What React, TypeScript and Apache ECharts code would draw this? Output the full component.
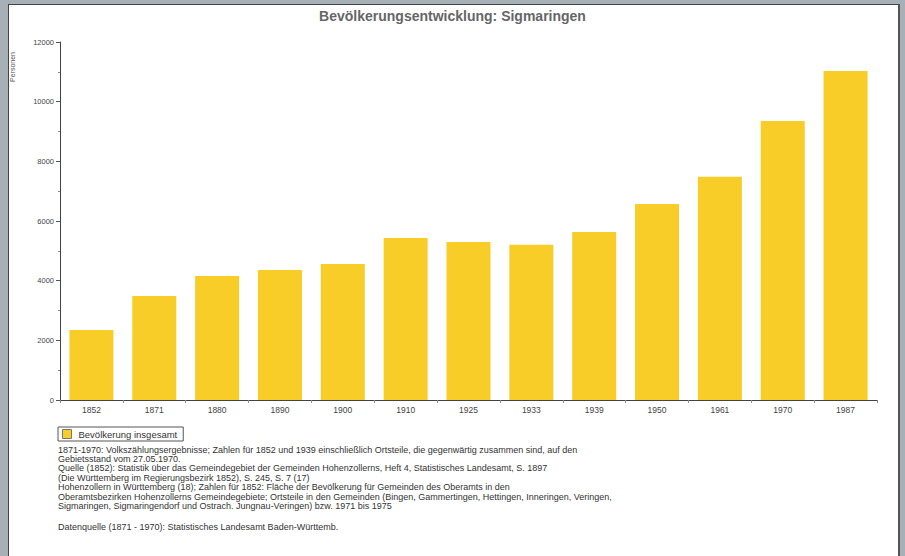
import React, { useEffect, useRef } from "react";
import * as echarts from "echarts";

const years = ["1852", "1871", "1880", "1890", "1900", "1910", "1925", "1933", "1939", "1950", "1961", "1970", "1987"];
const population = [2350, 3490, 4160, 4360, 4560, 5430, 5300, 5200, 5630, 6570, 7480, 9350, 11030];
const seriesName = "Bevölkerung insgesamt";
const titleText = "Bevölkerungsentwicklung: Sigmaringen";
const yAxisTitle = "Personen";
const notes = [
  "1871-1970: Volkszählungsergebnisse; Zahlen für 1852 und 1939 einschließlich Ortsteile, die gegenwärtig zusammen sind, auf den",
  "Gebietsstand vom 27.05.1970.",
  "Quelle (1852): Statistik über das Gemeindegebiet der Gemeinden Hohenzollerns, Heft 4, Statistisches Landesamt, S. 1897",
  "(Die Württemberg im Regierungsbezirk 1852), S. 245, S. 7 (17)",
  "Hohenzollern in Württemberg (18); Zahlen für 1852: Fläche der Bevölkerung für Gemeinden des Oberamts in den",
  "Oberamtsbezirken Hohenzollerns Gemeindegebiete; Ortsteile in den Gemeinden (Bingen, Gammertingen, Hettingen, Inneringen, Veringen,",
  "Sigmaringen, Sigmaringendorf und Ostrach. Jungnau-Veringen) bzw. 1971 bis 1975",
];
const sourceNote = "Datenquelle (1871 - 1970): Statistisches Landesamt Baden-Württemb.";

export default function App() {
  const ref = useRef<HTMLDivElement>(null);
  useEffect(() => {
    if (!ref.current) return;
    const chart = echarts.init(ref.current, undefined, { renderer: "svg" });
    const font = "Arial, 'Liberation Sans', sans-serif";
    const noteEls: any[] = notes.map((t, i) => ({
      type: "text",
      left: 58,
      top: 445 + i * 9.4,
      style: { text: t, fontSize: 9, fontFamily: font, fill: "#333" },
    }));
    noteEls.push({
      type: "text",
      left: 58,
      top: 522,
      style: { text: sourceNote, fontSize: 9, fontFamily: font, fill: "#333" },
    });
    chart.setOption({
      animation: false,
      textStyle: { fontFamily: font },
      title: {
        text: titleText,
        left: "center",
        top: 4,
        textStyle: { fontSize: 14, fontWeight: "bold", color: "#666", fontFamily: font },
      },
      grid: { left: 60, right: 28, top: 42, bottom: 156 },
      legend: {
        left: 58,
        top: 427,
        itemWidth: 9,
        itemHeight: 9,
        itemGap: 5,
        icon: "rect",
        padding: [2, 6, 2, 4],
        borderColor: "#555",
        borderWidth: 1,
        textStyle: { fontSize: 9.5, color: "#333", fontFamily: font, padding: [0, 0, 0, 2] },
        data: [{ name: seriesName, itemStyle: { borderColor: "#777", borderWidth: 1 } }],
      },
      xAxis: {
        type: "category",
        data: years,
        axisLine: { lineStyle: { color: "#444", width: 1 } },
        axisTick: { show: true, length: 3, lineStyle: { color: "#888" } },
        axisLabel: { fontSize: 8.5, color: "#444", margin: 5 },
      },
      yAxis: {
        type: "value",
        min: 0,
        max: 12000,
        interval: 2000,
        axisLine: { show: true, lineStyle: { color: "#444", width: 1 } },
        axisTick: { show: true, length: 4, lineStyle: { color: "#555" } },
        minorTick: { show: true, splitNumber: 2, length: 2, lineStyle: { color: "#888" } },
        splitLine: { show: false },
        axisLabel: { fontSize: 7.5, color: "#444", margin: 6, formatter: (v: number) => String(v) },
      },
      series: [
        {
          name: seriesName,
          type: "bar",
          data: population,
          barCategoryGap: "30%",
          itemStyle: { color: "#f8cd28" },
        },
      ],
      graphic: [
        {
          type: "text",
          x: 9,
          y: 82,
          rotation: Math.PI / 2,
          style: { text: yAxisTitle, fontSize: 7, fontFamily: font, fill: "#555" },
        },
        ...noteEls,
      ],
    });
    return () => chart.dispose();
  }, []);
  return (
    <div style={{ position: "fixed", left: 0, top: 0, width: 905, height: 556, background: "#a6b0b6", overflow: "hidden" }}>
      <div
        style={{
          position: "absolute",
          left: 8,
          top: 4,
          width: 889,
          height: 556,
          background: "#ffffff",
          borderLeft: "1px solid #444",
          borderTop: "1px solid #444",
          borderRight: "2px solid #555",
        }}
      />
      <div ref={ref} style={{ position: "absolute", left: 0, top: 0, width: 905, height: 556 }} />
    </div>
  );
}
